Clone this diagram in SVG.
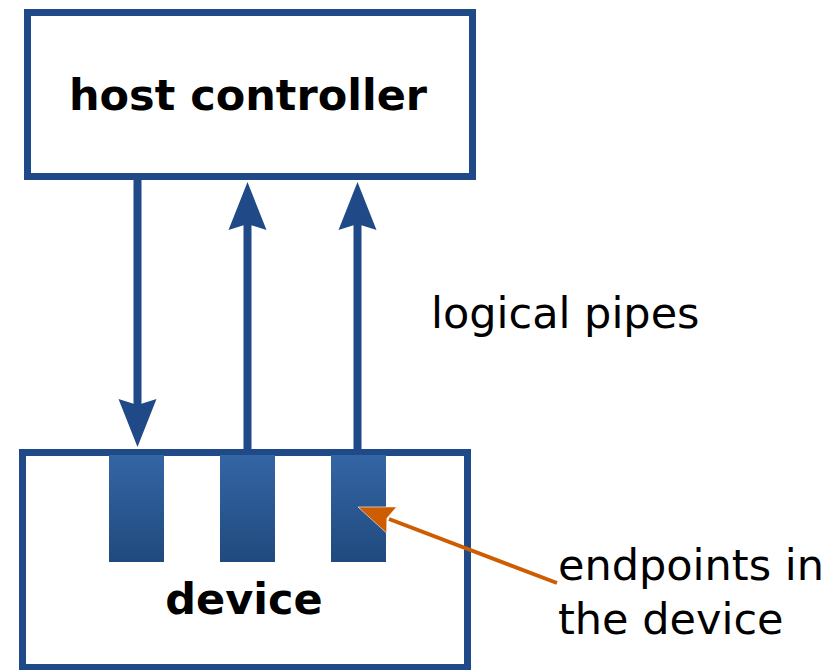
<svg xmlns="http://www.w3.org/2000/svg" width="836" height="670" viewBox="0 0 836 670">
  <style>
    .box { fill: #ffffff; stroke: #204a87; stroke-width: 7; }
    .title { font-family: "DejaVu Sans", sans-serif; font-weight: bold; font-size: 43px; fill: #000000; text-anchor: middle; }
    .label { font-family: "DejaVu Sans", sans-serif; font-size: 43px; fill: #000000; }
    .pipe { fill: none; stroke: #204a87; stroke-width: 8; marker-end: url(#head-blue); }
    .endpoint { fill: url(#endpoint-fill); }
  </style>
  <defs>
    <linearGradient id="endpoint-fill" x1="0" y1="0" x2="0" y2="1">
      <stop offset="0" stop-color="#3465a4"/>
      <stop offset="1" stop-color="#204a7e"/>
    </linearGradient>
    <marker id="head-blue" markerUnits="userSpaceOnUse" orient="auto" overflow="visible" markerWidth="60" markerHeight="50" refX="0" refY="0">
      <path d="M42,0 L-6,-19 L0,0 L-6,19 Z" fill="#204a87"/>
    </marker>
  </defs>

  <rect width="836" height="670" fill="#ffffff"/>

  <g id="host-controller">
    <rect class="box" x="27.5" y="12.5" width="445" height="164"/>
    <text class="title" x="248" y="110">host controller</text>
  </g>

  <g id="device">
    <rect class="box" x="22.5" y="452.5" width="445" height="215"/>
    <rect class="endpoint" x="109" y="455" width="55" height="107"/>
    <rect class="endpoint" x="220" y="455" width="55" height="107"/>
    <rect class="endpoint" x="331" y="455" width="55" height="107"/>
    <text class="title" x="244" y="614">device</text>
  </g>

  <g id="pipes-label">
    <text class="label" x="431" y="328">logical pipes</text>
  </g>

  <g id="endpoints-label">
    <text class="label" x="558" y="580">endpoints in</text>
    <text class="label" x="558" y="634">the device</text>
  </g>

  <g id="connectors">
    <line class="pipe" x1="137.5" y1="178" x2="137.5" y2="405"/>
    <line class="pipe" x1="247.5" y1="450" x2="247.5" y2="224"/>
    <line class="pipe" x1="357.5" y1="450" x2="357.5" y2="224"/>
    <line x1="557" y1="583" x2="389" y2="519" stroke="#ce5c00" stroke-width="4"/>
    <path d="M358,507 L396.6,506.9 L386.9,518.2 L386.6,533.1 Z" fill="#ce5c00" stroke="#ffffff" stroke-width="1" stroke-opacity="0.6"/>
  </g>
</svg>
